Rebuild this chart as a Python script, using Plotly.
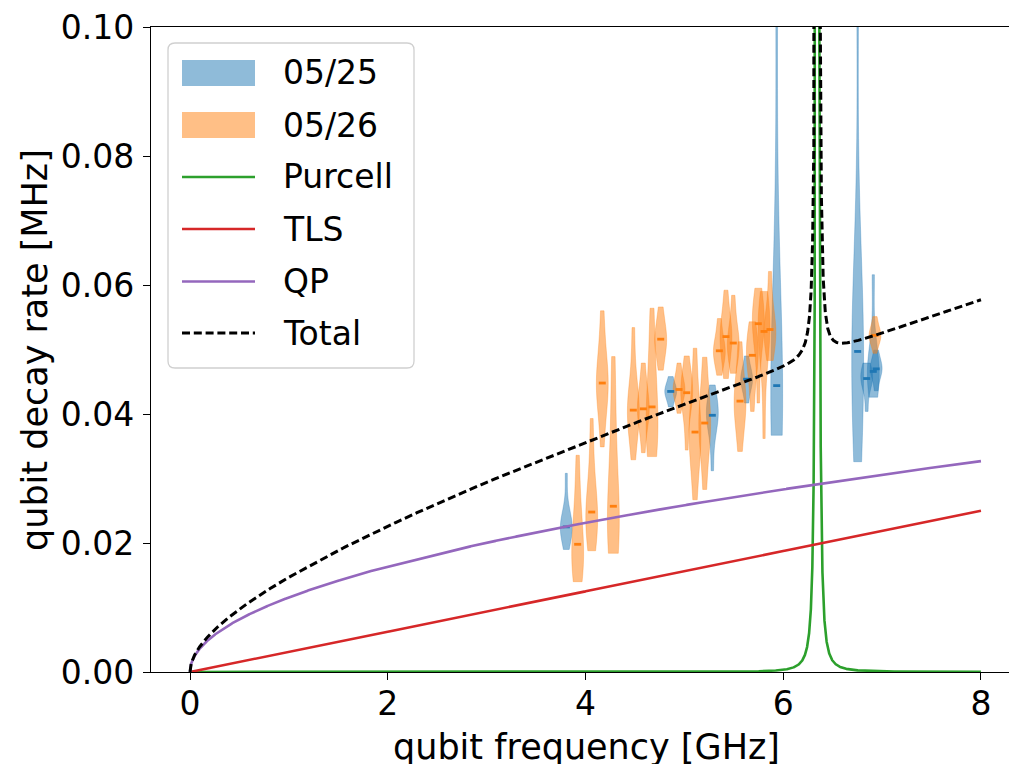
import numpy as np
import plotly.graph_objects as go

# ---------------- measured decay-rate distributions (MHz) ----------------
# 05/25 run: qubit frequency (GHz) and decay-rate samples at each bias point
freq_0525 = [3.806, 4.862, 5.283, 5.630, 5.934, 6.753, 6.844, 6.911, 6.940]
rates_0525 = [
    [0.0190, 0.0208, 0.0218, 0.0222, 0.0225, 0.0229, 0.0236, 0.0255, 0.0308],
    [0.0411, 0.0425, 0.0431, 0.0435, 0.0439, 0.0445, 0.0458],
    [0.0312, 0.0360, 0.0385, 0.0394, 0.0398, 0.0404, 0.0412, 0.0425, 0.0445],
    [0.0417, 0.0440, 0.0450, 0.0454, 0.0458, 0.0468, 0.0490],
    [0.0367, 0.0370, 0.0385, 0.0410, 0.0444, 0.0470, 0.0520, 0.0700, 0.1100],
    [0.0326, 0.0400, 0.0450, 0.0480, 0.0497, 0.0510, 0.0540, 0.0650, 0.1100],
    [0.0404, 0.0440, 0.0450, 0.0455, 0.0460, 0.0468, 0.0479],
    [0.0426, 0.0452, 0.0462, 0.0466, 0.0472, 0.0490, 0.0616],
    [0.0436, 0.0458, 0.0466, 0.0470, 0.0474, 0.0482, 0.0499],
]

# 05/26 run
freq_0526 = [3.921, 4.063, 4.170, 4.282, 4.484, 4.585, 4.673, 4.761, 4.946,
             5.024, 5.108, 5.206, 5.354, 5.421, 5.495, 5.563, 5.688, 5.748,
             5.806, 5.866, 6.928]
rates_0526 = [
    [0.0140, 0.0150, 0.0165, 0.0185, 0.0198, 0.0215, 0.0240, 0.0280, 0.0336],
    [0.0188, 0.0205, 0.0225, 0.0240, 0.0248, 0.0260, 0.0285, 0.0330, 0.0393],
    [0.0349, 0.0400, 0.0425, 0.0440, 0.0448, 0.0458, 0.0475, 0.0510, 0.0560],
    [0.0184, 0.0195, 0.0210, 0.0235, 0.0257, 0.0290, 0.0340, 0.0410, 0.0489],
    [0.0329, 0.0370, 0.0392, 0.0400, 0.0406, 0.0415, 0.0430, 0.0470, 0.0534],
    [0.0340, 0.0375, 0.0395, 0.0403, 0.0408, 0.0415, 0.0428, 0.0450, 0.0479],
    [0.0334, 0.0345, 0.0360, 0.0385, 0.0411, 0.0430, 0.0460, 0.0510, 0.0564],
    [0.0468, 0.0485, 0.0500, 0.0510, 0.0516, 0.0522, 0.0532, 0.0548, 0.0566],
    [0.0401, 0.0420, 0.0430, 0.0435, 0.0438, 0.0442, 0.0450, 0.0462, 0.0479],
    [0.0344, 0.0390, 0.0415, 0.0428, 0.0433, 0.0438, 0.0448, 0.0465, 0.0490],
    [0.0267, 0.0315, 0.0345, 0.0362, 0.0372, 0.0385, 0.0405, 0.0445, 0.0502],
    [0.0283, 0.0330, 0.0360, 0.0378, 0.0386, 0.0395, 0.0415, 0.0450, 0.0488],
    [0.0460, 0.0475, 0.0487, 0.0494, 0.0498, 0.0503, 0.0512, 0.0528, 0.0548],
    [0.0455, 0.0480, 0.0500, 0.0512, 0.0520, 0.0527, 0.0540, 0.0560, 0.0592],
    [0.0463, 0.0482, 0.0496, 0.0505, 0.0510, 0.0517, 0.0530, 0.0552, 0.0584],
    [0.0342, 0.0375, 0.0398, 0.0412, 0.0420, 0.0428, 0.0445, 0.0475, 0.0512],
    [0.0404, 0.0440, 0.0465, 0.0482, 0.0491, 0.0498, 0.0510, 0.0525, 0.0543],
    [0.0417, 0.0480, 0.0515, 0.0532, 0.0540, 0.0546, 0.0558, 0.0575, 0.0595],
    [0.0362, 0.0450, 0.0500, 0.0520, 0.0528, 0.0535, 0.0548, 0.0565, 0.0590],
    [0.0483, 0.0500, 0.0515, 0.0525, 0.0531, 0.0538, 0.0552, 0.0580, 0.0621],
    [0.0494, 0.0508, 0.0515, 0.0519, 0.0522, 0.0525, 0.0530, 0.0540, 0.0551],
]

# ---------------- loss-model parameters ----------------
tls_slope = 0.003125        # MHz per GHz
qp_coeff = 0.01156          # MHz / sqrt(GHz)
purcell_f0 = 6.345          # readout resonator frequency, GHz
purcell_gamma = 0.004       # Lorentzian half width, GHz
purcell_amp = 2.6           # peak rate, MHz

f = np.unique(np.concatenate([np.linspace(0, 8, 4001),
                              np.linspace(purcell_f0 - 0.2, purcell_f0 + 0.2, 4001)]))
tls = tls_slope * f
qp = qp_coeff * np.sqrt(f)
purcell = purcell_amp * purcell_gamma**2 / ((f - purcell_f0)**2 + purcell_gamma**2)
total = tls + qp + purcell

# ---------------- styling ----------------
C0, C1 = "#1f77b4", "#ff7f0e"
C0_fill, C1_fill = "rgba(31,119,180,0.5)", "rgba(255,127,14,0.5)"
GREEN, RED, PURPLE = "#2ca02c", "#d62728", "#9467bd"
FONT = "DejaVu Sans"
LW = 2.6
DASH = "8px,3.8px"

W, H = 1009, 764
ML, MR, MT, MB = 151, 0, 27, 92
PW, PH = W - ML - MR, H - MT - MB
PX_PER_GHZ = 98.87
X0_PX = 190
x_range = [(ML - X0_PX) / PX_PER_GHZ, (W - MR - X0_PX) / PX_PER_GHZ]


def paper(px, py):
    return (px - ML) / PW, (H - MB - py) / PH


def scott_bw(samples):
    s = np.asarray(samples)
    return float(np.std(s, ddof=1) * len(s) ** (-1 / 5))


fig = go.Figure()

# violin bodies (Gaussian KDE with Scott's bandwidth, cut at the extrema)
for freqs, rates, fill in [(freq_0525, rates_0525, C0_fill),
                           (freq_0526, rates_0526, C1_fill)]:
    for fq, r in zip(freqs, rates):
        fig.add_trace(go.Violin(
            x=[fq] * len(r), y=r, width=0.12, spanmode="hard",
            bandwidth=scott_bw(r), scalemode="width", points=False,
            fillcolor=fill, line=dict(color=fill, width=0.6),
            showlegend=False, hoverinfo="skip"))

# median ticks
for freqs, rates, col in [(freq_0525, rates_0525, C0),
                          (freq_0526, rates_0526, C1)]:
    fig.add_trace(go.Scatter(
        x=freqs, y=[float(np.median(r)) for r in rates], mode="markers",
        marker=dict(symbol="line-ew", size=5, line=dict(color=col, width=2.8)),
        showlegend=False, hoverinfo="skip"))

# model curves
fig.add_trace(go.Scatter(x=f, y=purcell, mode="lines", line=dict(color=GREEN, width=LW),
                         name="Purcell", showlegend=False))
fig.add_trace(go.Scatter(x=f, y=tls, mode="lines", line=dict(color=RED, width=LW),
                         name="TLS", showlegend=False))
fig.add_trace(go.Scatter(x=f, y=qp, mode="lines", line=dict(color=PURPLE, width=LW),
                         name="QP", showlegend=False))
fig.add_trace(go.Scatter(x=f, y=total, mode="lines",
                         line=dict(color="black", width=3, dash=DASH),
                         name="Total", showlegend=False))

# ---------------- legend box ----------------
shapes = []
annotations = []
bx0, by0 = paper(168, 368)
bx1, by1 = paper(414, 43)
rx, ry = 7 / PW, 7 / PH
path = (f"M {bx0+rx},{by0} L {bx1-rx},{by0} Q {bx1},{by0} {bx1},{by0+ry} "
        f"L {bx1},{by1-ry} Q {bx1},{by1} {bx1-rx},{by1} "
        f"L {bx0+rx},{by1} Q {bx0},{by1} {bx0},{by1-ry} "
        f"L {bx0},{by0+ry} Q {bx0},{by0} {bx0+rx},{by0} Z")
shapes.append(dict(type="path", xref="paper", yref="paper", path=path,
                   fillcolor="rgba(255,255,255,0.8)",
                   line=dict(color="#d0d0d0", width=1.3), layer="above"))

legend_items = [
    ("05/25", "patch", C0_fill, None, 73),
    ("05/26", "patch", C1_fill, None, 125),
    ("Purcell", "line", GREEN, "solid", 177),
    ("TLS", "line", RED, "solid", 229),
    ("QP", "line", PURPLE, "solid", 281.5),
    ("Total", "line", "black", DASH, 333),
]
for label, kind, col, dash, yc in legend_items:
    if kind == "patch":
        x0, y0 = paper(182, yc + 13)
        x1, y1 = paper(255, yc - 13)
        shapes.append(dict(type="rect", xref="paper", yref="paper",
                           x0=x0, y0=y0, x1=x1, y1=y1, fillcolor=col,
                           line=dict(width=0), layer="above"))
    else:
        x0, y0 = paper(182, yc)
        x1, _ = paper(255, yc)
        shapes.append(dict(type="line", xref="paper", yref="paper",
                           x0=x0, y0=y0, x1=x1, y1=y0,
                           line=dict(color=col, width=LW if kind == "line" and dash == "solid" else 3,
                                     dash=dash), layer="above"))
    tx, ty = paper(281, yc)
    annotations.append(dict(text=label, xref="paper", yref="paper", x=tx, y=ty,
                            xanchor="left", yanchor="middle", showarrow=False,
                            font=dict(family=FONT, size=33, color="black")))

# axis titles
xt, yt = paper(586.5, 747)
annotations.append(dict(text="qubit frequency [GHz]", xref="paper", yref="paper",
                        x=xt, y=yt, xanchor="center", yanchor="middle", showarrow=False,
                        font=dict(family=FONT, size=35, color="black")))
xt, yt = paper(35, 350)
annotations.append(dict(text="qubit decay rate [MHz]", xref="paper", yref="paper",
                        x=xt, y=yt, xanchor="center", yanchor="middle", showarrow=False,
                        textangle=-90, font=dict(family=FONT, size=35, color="black")))

fig.update_layout(
    width=W, height=H, autosize=False,
    margin=dict(l=ML, r=MR, t=MT, b=MB, pad=0),
    paper_bgcolor="white", plot_bgcolor="white",
    violinmode="overlay", showlegend=False,
    font=dict(family=FONT, color="black"),
    shapes=shapes, annotations=annotations,
)
fig.update_xaxes(
    range=x_range, tickvals=[0, 2, 4, 6, 8], ticktext=["0", "2", "4", "6", "8"],
    showgrid=False, zeroline=False, showline=True, linecolor="black", linewidth=1.3,
    mirror=True, ticks="outside", ticklen=7, tickwidth=1.3, tickcolor="black",
    tickfont=dict(family=FONT, size=33, color="black"), ticklabelstandoff=-5,
)
fig.update_yaxes(
    range=[0, 0.1], tickvals=[0, 0.02, 0.04, 0.06, 0.08, 0.10],
    ticktext=["0.00", "0.02", "0.04", "0.06", "0.08", "0.10"],
    showgrid=False, zeroline=False, showline=True, linecolor="black", linewidth=1.3,
    ticks="outside", ticklen=7, tickwidth=1.3, tickcolor="black",
    tickfont=dict(family=FONT, size=33, color="black"), ticklabelstandoff=2,
)

fig.write_html("out.html")
